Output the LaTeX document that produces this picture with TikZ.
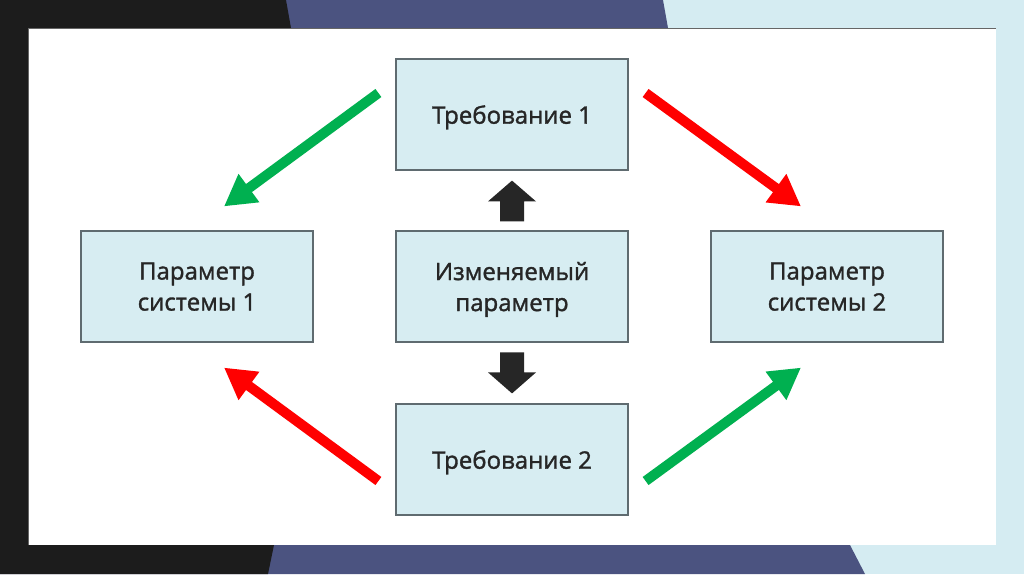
\documentclass[tikz,border=0pt]{standalone}
\usepackage{fontspec}
\setmainfont{Open Sans}
\newfontfamily\boxfont[FakeBold=1.4]{Open Sans}
\usetikzlibrary{arrows.meta,calc,positioning}
\definecolor{boxfill}{HTML}{D7EDF2}
\definecolor{boxline}{HTML}{5F6B70}
\definecolor{bandblue}{HTML}{4B5380}
\definecolor{bandlight}{HTML}{D5ECF2}
\definecolor{bandblack}{HTML}{1C1C1C}
\definecolor{okgreen}{HTML}{00B050}
\definecolor{badred}{HTML}{FF0000}
\definecolor{txt}{HTML}{262626}
\tikzset{
  param/.style={
    shape = rectangle,
    draw = boxline,
    fill = boxfill,
    line width = 0.6pt,
    minimum width = 116pt,
    minimum height = 55.5pt,
    text depth = 0pt,
    align = center,
    text = txt,
    font = \boxfont\fontsize{12}{15.5}\selectfont
  },
  fat/.style={
    line width = 5pt,
    -{Triangle[length=15.5pt,width=16.5pt]}
  },
  block/.style={
    fill = txt
  }
}
\begin{document}
\begin{tikzpicture}[x=0.5pt,y=-0.5pt]
    \useasboundingbox (0,0) rectangle (1024,574);
    % background bands
    \fill[bandlight] (0,0) rectangle (1024,574);
    \fill[bandblue] (0,0) -- (663,0) -- (668,28) -- (850,545) -- (865,574) -- (0,574) -- cycle;
    \fill[bandblack] (0,0) -- (286,0) -- (291,28) -- (274,545) -- (268,574) -- (0,574) -- cycle;
    \fill[white] (28,28) rectangle (996,545);
    \draw[black!60,line width=0.4pt] (28,545) -- (28,28) -- (996,28);
    % boxes
    \node[param] (mid) at (512,286.5) {Изменяемый\\параметр};
    \node[param] (t1) at (512,114.5) {Требование 1};
    \node[param] (t2) at (512,459.5) {Требование 2};
    \node[param] (p1) at (197,286.5) {Параметр\\системы 1};
    \node[param] (p2) at (827,286.5) {Параметр\\системы 2};
    % block arrows
    \fill[block] ($(mid.north)+(-12,-9)$) -- ++(0,-20) -- ++(-12,0) -- ($(t1.south)+(0,10)$)
        -- ($(mid.north)+(24,-29)$) -- ++(-12,0) -- ++(0,20) -- cycle;
    \fill[block] ($(t2.north)+(-12,-51)$) -- ++(0,20) -- ++(-12,0) -- ($(t2.north)+(0,-10)$)
        -- ($(t2.north)+(24,-31)$) -- ++(-12,0) -- ++(0,-20) -- cycle;
    % diagonal arrows
    \draw[fat,okgreen] ($(t1.west)+(-17,-21.5)$) -- ($(p1.north)+(27,-24)$);
    \draw[fat,badred] ($(t1.east)+(17,-21.5)$) -- ($(p2.north)+(-26,-24)$);
    \draw[fat,badred] ($(t2.west)+(-17,21.5)$) -- ($(p1.south)+(27,25)$);
    \draw[fat,okgreen] ($(t2.east)+(17,21.5)$) -- ($(p2.south)+(-26,25)$);
\end{tikzpicture}
\end{document}
